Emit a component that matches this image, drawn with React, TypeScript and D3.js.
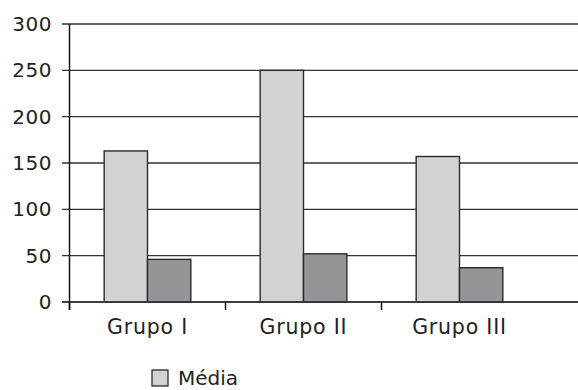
import React from "react";
import * as d3 from "d3";

const groups = ["Grupo I", "Grupo II", "Grupo III"];
const series = ["Média", "Desvio"];
const media = [163, 250, 157];
const desvio = [46, 52, 37];
const yTicks = [0, 50, 100, 150, 200, 250, 300];

const W = 578;
const H = 390;
const FONT = "'DejaVu Sans', sans-serif";
const colors = ["#d1d2d4", "#939598"];

const App = () => {
  const x0 = d3.scaleBand().domain(groups).range([69.5, 537.5]).paddingInner(0);
  const x1 = d3
    .scaleBand()
    .domain(series)
    .range([0, x0.bandwidth()])
    .paddingInner(0)
    .paddingOuter(0.8);
  const y = d3.scaleLinear().domain([0, 300]).range([302, 24]);

  const values = [media, desvio];

  return (
    <svg
      width={W}
      height={H}
      style={{ position: "absolute", left: 0, top: 0, background: "#fff" }}
      fontFamily={FONT}
    >
      {/* gridlines + y labels */}
      {yTicks.map((t) => (
        <g key={t}>
          <line x1={62} x2={W} y1={y(t)} y2={y(t)} stroke="#333" strokeWidth={1.3} />
          <text x={52} y={y(t) + 7} textAnchor="end" fontSize={20} letterSpacing={0.5} fill="#222">
            {t}
          </text>
        </g>
      ))}

      {/* bars */}
      {groups.map((g, i) => (
        <g key={g} transform={`translate(${x0(g)},0)`}>
          {series.map((s, j) => (
            <rect
              key={s}
              x={x1(s)}
              y={y(values[j][i])}
              width={x1.bandwidth()}
              height={y(0) - y(values[j][i])}
              fill={colors[j]}
              stroke="#2a2a2a"
              strokeWidth={1.4}
            />
          ))}
        </g>
      ))}

      {/* axes */}
      <line x1={69.5} x2={69.5} y1={24} y2={310} stroke="#111" strokeWidth={1.5} />
      <line x1={62} x2={W} y1={y(0)} y2={y(0)} stroke="#333" strokeWidth={1.5} />
      {groups.map((g) => (
        <line
          key={g + "tick"}
          x1={x0(g)}
          x2={x0(g)}
          y1={y(0)}
          y2={310}
          stroke="#111"
          strokeWidth={1.5}
        />
      ))}
      {groups.map((g) => (
        <text
          key={g + "lab"}
          x={(x0(g) as number) + x0.bandwidth() / 2}
          y={334}
          textAnchor="middle"
          fontSize={20.5}
          letterSpacing={0.8}
          fill="#222"
        >
          {g}
        </text>
      ))}

      {/* legend */}
      <rect x={152} y={370} width={16} height={16} fill={colors[0]} stroke="#2a2a2a" strokeWidth={1.3} />
      <text x={178} y={385} fontSize={20} fill="#222">
        {series[0]}
      </text>
    </svg>
  );
};

export default App;
